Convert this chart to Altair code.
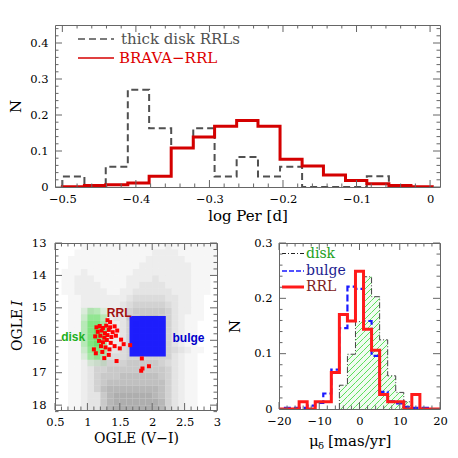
import altair as alt
import pandas as pd
import numpy as np

# ---------------- data: top panel (log Per histograms) ----------------
logper_edges = [-0.500, -0.470, -0.441, -0.411, -0.382, -0.352, -0.322, -0.293, -0.263,
                -0.234, -0.204, -0.174, -0.145, -0.115, -0.086, -0.056, -0.026, 0.003]
brava_rrl = [0.001, 0.004, 0.006, 0.011, 0.030, 0.108, 0.139, 0.169, 0.185,
             0.169, 0.077, 0.058, 0.033, 0.018, 0.009, 0.004, 0.001]
thick_disk = [0.029, 0.0, 0.056, 0.270, 0.163, 0.108, 0.163, 0.029, 0.083,
              0.029, 0.056, 0.0, 0.0, 0.0, 0.030, 0.0, 0.0]

# ---------------- data: bottom-left CMD ----------------
cmd_color_starts = [round(0.5 + 0.1 * i, 2) for i in range(25)]   # bin width 0.1
cmd_mag_starts = [round(13.0 + 0.2 * i, 2) for i in range(26)]    # bin height 0.2
# density level (0-9) of the grey field-star cloud, one string per magnitude row
cmd_density = [
    "0000111111111111121111111",  # 13.0
    "0001111111111112222111111",  # 13.2
    "0011111111111122222211111",  # 13.4
    "0011111111111222222221111",  # 13.6
    "0111211111112222222221111",  # 13.8
    "0112221111122223222221110",  # 14.0
    "0112222111122333322221110",  # 14.2
    "0112222211223333332221110",  # 14.4
    "0011222222234444433221100",  # 14.6
    "0011222222345555543221100",  # 14.8
    "0011232222356666653221100",  # 15.0
    "0011222223366777653211100",  # 15.2
    "0011222222356666653211000",  # 15.4
    "0011222222356666653211000",  # 15.6
    "0011222222356666653211000",  # 15.8
    "0011222222356666653211000",  # 16.0
    "0011222233456666654321100",  # 16.2
    "0011223344455555553211000",  # 16.4
    "0011234555566666543211000",  # 16.6
    "0011235566666666653211000",  # 16.8
    "0011235666777777653211000",  # 17.0
    "0011235677777777753211000",  # 17.2
    "0011235788888888753211000",  # 17.4
    "0011233689999998753211000",  # 17.6
    "0011233689999999853211000",  # 17.8
    "0011233689999999853211000",  # 18.0
]
disk_color_starts = [0.9, 1.0, 1.1, 1.2]
disk_mag_starts = [15.0, 15.2, 15.4, 15.6, 15.8, 16.0, 16.2, 16.4, 16.6]
disk_density = ["1331", "2553", "3664", "3675", "3675", "3674", "2564", "1453", "0111"]
bulge_box = {"c0": [1.65], "c1": [2.21], "m0": [15.25], "m1": [16.5]}

rrl_color = [1.14, 1.19, 1.24, 1.29, 1.35, 1.42,
             1.16, 1.22, 1.27, 1.33, 1.39, 1.46,
             1.12, 1.20, 1.26, 1.31, 1.37, 1.44,
             1.18, 1.24, 1.30, 1.36, 1.52,
             1.21, 1.28, 1.34, 1.42, 1.50,
             1.23, 1.33, 1.56,
             1.35, 1.31,
             1.13, 1.26, 1.45, 1.66, 1.84, 1.95, 1.85, 1.83, 1.10]
rrl_mag = [15.60, 15.56, 15.62, 15.55, 15.60, 15.57,
           15.74, 15.70, 15.78, 15.68, 15.75, 15.70,
           15.88, 15.86, 15.92, 15.84, 15.90, 15.86,
           16.02, 16.06, 15.99, 16.08, 15.98,
           16.18, 16.22, 16.28, 16.18, 16.25,
           16.36, 16.45, 16.12,
           15.44, 15.38,
           16.40, 16.55, 16.64, 16.15, 16.56, 16.80, 16.87, 16.94, 16.28]
cmd_labels = ["RRL", "disk", "bulge"]
cmd_label_x = [1.49, 0.78, 2.56]
cmd_label_y = [15.17, 15.9, 15.92]
cmd_label_colors = ["#a01010", "#20b020", "#0000cc"]

# ---------------- data: bottom-right proper-motion histograms ----------------
mu_edges = [-21, -19, -17, -15, -13, -11, -9, -7, -5, -3, -1, 1, 3, 5, 7, 9, 11, 13, 15, 17, 19, 21]
mu_rrl = [0, 0, 0, 0.013, 0, 0.013, 0.013, 0.066, 0.171, 0.159, 0.249,
          0.144, 0.106, 0.026, 0.013, 0.013, 0, 0.026, 0, 0, 0]
mu_bulge = [0, 0.002, 0.002, 0.002, 0.006, 0.011, 0.028, 0.071, 0.146, 0.221, 0.217,
            0.159, 0.096, 0.031, 0.014, 0.010, 0.004, 0.002, 0.002, 0, 0]
mu_disk = [0, 0, 0, 0, 0, 0, 0, 0, 0.043, 0.099, 0.158,
           0.239, 0.203, 0.125, 0.060, 0.030, 0.013, 0, 0, 0, 0]

# ---------------- style ----------------
FONT = "DejaVu Serif"
FRAME = "#666666"
HATCH = "#48dc48"
W_TOP, H_TOP = 385, 162
W_BL, H_BL = 162, 167
W_BR, H_BR = 161, 166
XD_TOP, YD_TOP = [-0.51, 0.0135], [0, 0.45]
XD_BL, YD_BL = [0.5, 3.0], [13, 18.15]
XD_BR, YD_BR = [-20, 20], [0, 0.3]


def sc(dom, reverse=False):
    return alt.Scale(domain=dom, nice=False, zero=False, reverse=reverse)


def steps(edges, vals):
    xs = [edges[0]] + [edges[i] for i in range(len(vals))] + [edges[len(vals)], edges[len(vals)]]
    ys = [0] + list(vals) + [vals[-1], 0]
    return pd.DataFrame({"x": xs, "y": ys, "i": range(len(xs))})


def ticks(xmaj, xmin, ymaj, ymin, W, H, xs, ys, xa, ya, major=7, minor=3.5):
    out = []
    for vals, L in ((xmaj, major), (xmin, minor)):
        base = alt.Chart(pd.DataFrame({"v": vals})).mark_rule(color=FRAME, strokeWidth=1)
        out.append(base.encode(x=alt.X("v:Q", scale=xs, axis=xa), y=alt.value(H), y2=alt.value(H - L)))
        out.append(base.encode(x=alt.X("v:Q", scale=xs, axis=xa), y=alt.value(0), y2=alt.value(L)))
    for vals, L in ((ymaj, major), (ymin, minor)):
        base = alt.Chart(pd.DataFrame({"v": vals})).mark_rule(color=FRAME, strokeWidth=1)
        out.append(base.encode(y=alt.Y("v:Q", scale=ys, axis=ya), x=alt.value(0), x2=alt.value(L)))
        out.append(base.encode(y=alt.Y("v:Q", scale=ys, axis=ya), x=alt.value(W), x2=alt.value(W - L)))
    return out


def minors(lo, hi, step, major_step):
    n = int(round((hi - lo) / step))
    vals = [round(lo + k * step, 4) for k in range(n + 1)]
    return [v for v in vals if abs(v / major_step - round(v / major_step)) > 1e-6]


def one(**kw):
    return pd.DataFrame({k: [v] for k, v in kw.items()})


def label(t, x, y, color, size=15, align="left", font=FONT, baseline="middle", **kw):
    return alt.Chart(one(t=t)).mark_text(align=align, baseline=baseline, font=font, fontSize=size,
                                         color=color, **kw).encode(
        x=alt.value(x), y=alt.value(y), text="t:N")


# ================= top panel =================
xs_t, ys_t = sc(XD_TOP), sc(YD_TOP)
top_xmaj = [-0.5, -0.4, -0.3, -0.2, -0.1, 0.0]
top_ymaj = [0, 0.1, 0.2, 0.3, 0.4]
xa_t = alt.Axis(values=top_xmaj, format=".1~f", title="log Per [d]", labelPadding=6, titlePadding=4)
ya_t = alt.Axis(values=top_ymaj, format=".1~f", title="N", labelPadding=7, titlePadding=6)

gray_top = alt.Chart(steps(logper_edges, thick_disk)).mark_line(
    interpolate="step-after", color="#505050", strokeWidth=2, strokeDash=[7, 4], clip=True
).encode(x=alt.X("x:Q", scale=xs_t, axis=xa_t), y=alt.Y("y:Q", scale=ys_t, axis=ya_t), order="i:Q")

red_top = alt.Chart(steps(logper_edges, brava_rrl)).mark_line(
    interpolate="step-after", color="#d40000", strokeWidth=3, clip=True
).encode(x=alt.X("x:Q", scale=xs_t, axis=xa_t), y=alt.Y("y:Q", scale=ys_t, axis=ya_t), order="i:Q")

leg1_line = alt.Chart(one(a=0)).mark_rule(color="#505050", strokeWidth=1.5, strokeDash=[7, 4]).encode(
    x=alt.value(23), x2=alt.value(59), y=alt.value(14))
leg2_line = alt.Chart(one(a=0)).mark_rule(color="#e04040", strokeWidth=2).encode(
    x=alt.value(23), x2=alt.value(59), y=alt.value(33))

top = alt.layer(
    gray_top, red_top, leg1_line, label("thick disk RRLs", 66, 14, "#505050"),
    leg2_line, label("BRAVA\u2212RRL", 64, 33, "#dd0000"),
    *ticks(top_xmaj, minors(-0.5, 0.0, 0.02, 0.1), top_ymaj, minors(0, 0.44, 0.02, 0.1),
           W_TOP, H_TOP, xs_t, ys_t, xa_t, ya_t)
).properties(width=W_TOP, height=H_TOP)

# ================= bottom-left CMD =================
xs_l, ys_l = sc(XD_BL), sc(YD_BL, reverse=True)
bl_xmaj = [0.5, 1, 1.5, 2, 2.5, 3]
bl_ymaj = [13, 14, 15, 16, 17, 18]
xa_l = alt.Axis(values=bl_xmaj, format=".1~f", title="OGLE (V\u2212I)", titleFontSize=14,
                labelPadding=6, titlePadding=4)
ya_l = alt.Axis(values=bl_ymaj, format="d", title=None, labelPadding=9)

rows = []
for r, s in enumerate(cmd_density):
    for c, ch in enumerate(s):
        if int(ch) > 0:
            rows.append({"c0": cmd_color_starts[c], "c1": cmd_color_starts[c] + 0.1,
                         "m0": cmd_mag_starts[r], "m1": cmd_mag_starts[r] + 0.2, "lvl": int(ch)})
cmd_df = pd.DataFrame(rows)
drows = []
for r, s in enumerate(disk_density):
    for c, ch in enumerate(s):
        if int(ch) > 0:
            drows.append({"c0": disk_color_starts[c], "c1": disk_color_starts[c] + 0.1,
                          "m0": disk_mag_starts[r], "m1": disk_mag_starts[r] + 0.2, "lvl": int(ch)})
disk_df = pd.DataFrame(drows)

gray_cloud = alt.Chart(cmd_df).mark_rect(color="#9a9a9a", clip=True, strokeWidth=0).encode(
    x=alt.X("c0:Q", scale=xs_l, axis=xa_l), x2="c1:Q",
    y=alt.Y("m0:Q", scale=ys_l, axis=ya_l), y2="m1:Q",
    opacity=alt.Opacity("lvl:Q", scale=alt.Scale(domain=[0, 9], range=[0, 0.8]), legend=None))

green_cloud = alt.Chart(disk_df).mark_rect(color="#20dd20", clip=True, strokeWidth=0).encode(
    x=alt.X("c0:Q", scale=xs_l, axis=xa_l), x2="c1:Q",
    y=alt.Y("m0:Q", scale=ys_l, axis=ya_l), y2="m1:Q",
    opacity=alt.Opacity("lvl:Q", scale=alt.Scale(domain=[0, 9], range=[0, 1.0]), legend=None))

blue_box = alt.Chart(pd.DataFrame(bulge_box)).mark_rect(color="#1414ff", opacity=0.95).encode(
    x=alt.X("c0:Q", scale=xs_l, axis=xa_l), x2="c1:Q",
    y=alt.Y("m0:Q", scale=ys_l, axis=ya_l), y2="m1:Q")

rrl_pts = alt.Chart(pd.DataFrame({"c": rrl_color, "m": rrl_mag})).mark_square(
    size=16, color="#ff0000", opacity=1).encode(
    x=alt.X("c:Q", scale=xs_l, axis=xa_l), y=alt.Y("m:Q", scale=ys_l, axis=ya_l))

cmd_text = alt.Chart(pd.DataFrame({"t": cmd_labels, "x": cmd_label_x, "y": cmd_label_y,
                                   "col": cmd_label_colors})).mark_text(
    font="Liberation Sans", fontWeight="bold", fontSize=12, baseline="middle").encode(
    x=alt.X("x:Q", scale=xs_l, axis=xa_l), y=alt.Y("y:Q", scale=ys_l, axis=ya_l),
    text="t:N", color=alt.Color("col:N", scale=None))

bl = alt.layer(
    gray_cloud, green_cloud, blue_box, rrl_pts, cmd_text,
    label("OGLE", -37, 108, "#000", size=14, angle=270),
    label("I", -37, 63, "#000", size=14, angle=270, fontStyle="italic"),
    *ticks(bl_xmaj, minors(0.5, 3.0, 0.1, 0.5), bl_ymaj, minors(13, 18.1, 0.2, 1.0),
           W_BL, H_BL, xs_l, ys_l, xa_l, ya_l)
).properties(width=W_BL, height=H_BL)

# ================= bottom-right proper motions =================
xs_r, ys_r = sc(XD_BR), sc(YD_BR)
br_xmaj = [-20, -10, 0, 10, 20]
br_ymaj = [0, 0.1, 0.2, 0.3]
xa_r = alt.Axis(values=br_xmaj, format="d", title=None, labelPadding=6)
ya_r = alt.Axis(values=br_ymaj, format=".1~f", title="N", labelPadding=7, titlePadding=11)

# hatching of the disk histogram: 45-degree segments clipped to each bar
sx = W_BR / (XD_BR[1] - XD_BR[0])
sy = H_BR / (YD_BR[1] - YD_BR[0])
hatch = []
for cpx in np.arange(-H_BR - 12, W_BR + 12, 6.0):
    for i, v in enumerate(mu_disk):
        if v <= 0:
            continue
        a = (mu_edges[i] - XD_BR[0]) * sx
        b = (mu_edges[i + 1] - XD_BR[0]) * sx
        h = v * sy
        lo, hi = max(a, cpx), min(b, cpx + h)
        if hi > lo:
            hatch.append({"hx": XD_BR[0] + lo / sx, "hy": (lo - cpx) / sy,
                          "hx2": XD_BR[0] + hi / sx, "hy2": (hi - cpx) / sy, "hc": HATCH})
hatch_df = pd.DataFrame(hatch)

disk_fill = alt.Chart(steps(mu_edges, mu_disk)).mark_area(
    interpolate="step-after", color="#f0fbf0", opacity=1, clip=True
).encode(x=alt.X("x:Q", scale=xs_r, axis=xa_r), y=alt.Y("y:Q", scale=ys_r, axis=ya_r), order="i:Q")

hatch_layer = alt.Chart(hatch_df).mark_rule(strokeWidth=0.9, clip=True).encode(
    x=alt.X("hx:Q", scale=xs_r, axis=xa_r), y=alt.Y("hy:Q", scale=ys_r, axis=ya_r),
    x2="hx2:Q", y2="hy2:Q", color=alt.Color("hc:N", scale=None, legend=None))

first = next(i for i, v in enumerate(mu_disk) if v > 0)
last = max(i for i, v in enumerate(mu_disk) if v > 0)
disk_line = alt.Chart(steps(mu_edges[first:last + 2], mu_disk[first:last + 1])).mark_line(
    interpolate="step-after", color="#444444", strokeWidth=1, strokeDash=[6, 2, 1, 2], clip=True
).encode(x=alt.X("x:Q", scale=xs_r, axis=xa_r), y=alt.Y("y:Q", scale=ys_r, axis=ya_r), order="i:Q")

bulge_line = alt.Chart(steps(mu_edges, mu_bulge)).mark_line(
    interpolate="step-after", color="#1a1aff", strokeWidth=2.2, strokeDash=[7, 3], clip=True
).encode(x=alt.X("x:Q", scale=xs_r, axis=xa_r), y=alt.Y("y:Q", scale=ys_r, axis=ya_r), order="i:Q")

rrl_line = alt.Chart(steps(mu_edges, mu_rrl)).mark_line(
    interpolate="step-after", color="#ff1a1a", strokeWidth=3, clip=True
).encode(x=alt.X("x:Q", scale=xs_r, axis=xa_r), y=alt.Y("y:Q", scale=ys_r, axis=ya_r), order="i:Q")

leg_disk_l = alt.Chart(one(a=0)).mark_rule(color="#222222", strokeWidth=1, strokeDash=[4, 2, 1, 2]).encode(
    x=alt.value(3), x2=alt.value(25), y=alt.value(10.5))
leg_bulge_l = alt.Chart(one(a=0)).mark_rule(color="#1a1aff", strokeWidth=1.5, strokeDash=[5, 2]).encode(
    x=alt.value(3), x2=alt.value(25), y=alt.value(28))
leg_rrl_l = alt.Chart(one(a=0)).mark_rule(color="#ff1a1a", strokeWidth=3).encode(
    x=alt.value(3), x2=alt.value(25), y=alt.value(44))

br = alt.layer(
    disk_fill, hatch_layer, disk_line, bulge_line, rrl_line, leg_disk_l, leg_bulge_l, leg_rrl_l,
    label("disk", 27, 10.5, "#22a022", size=14),
    label("bulge", 27, 28, "#1c1c90", size=14),
    label("RRL", 27, 44, "#802020", size=14),
    label("\u03bc", 30, 203, "#000", size=15, baseline="alphabetic"),
    label("\u03b4", 39, 206, "#000", size=10, baseline="alphabetic"),
    label("[mas/yr]", 49, 203, "#000", size=15, baseline="alphabetic"),
    *ticks(br_xmaj, minors(-20, 20, 2, 10), br_ymaj, minors(0, 0.3, 0.02, 0.1),
           W_BR, H_BR, xs_r, ys_r, xa_r, ya_r)
).properties(width=W_BR, height=H_BR)

bottom = alt.hconcat(bl, br, spacing=62, bounds="flush")
chart = alt.vconcat(top, bottom, spacing=56, bounds="flush").properties(
    padding={"left": 0, "top": 16, "right": 0, "bottom": 0}
).configure_view(stroke=FRAME, strokeWidth=1).configure_axis(
    labelFont=FONT, labelFontSize=11.5, labelColor="#000", titleFont=FONT, titleFontSize=15,
    titleFontWeight="normal", titleColor="#000", ticks=False, domain=False, grid=False,
    labelFlush=False, labelOverlap=False)

chart.save("out.html", embed_options={"renderer": "svg", "actions": False})
